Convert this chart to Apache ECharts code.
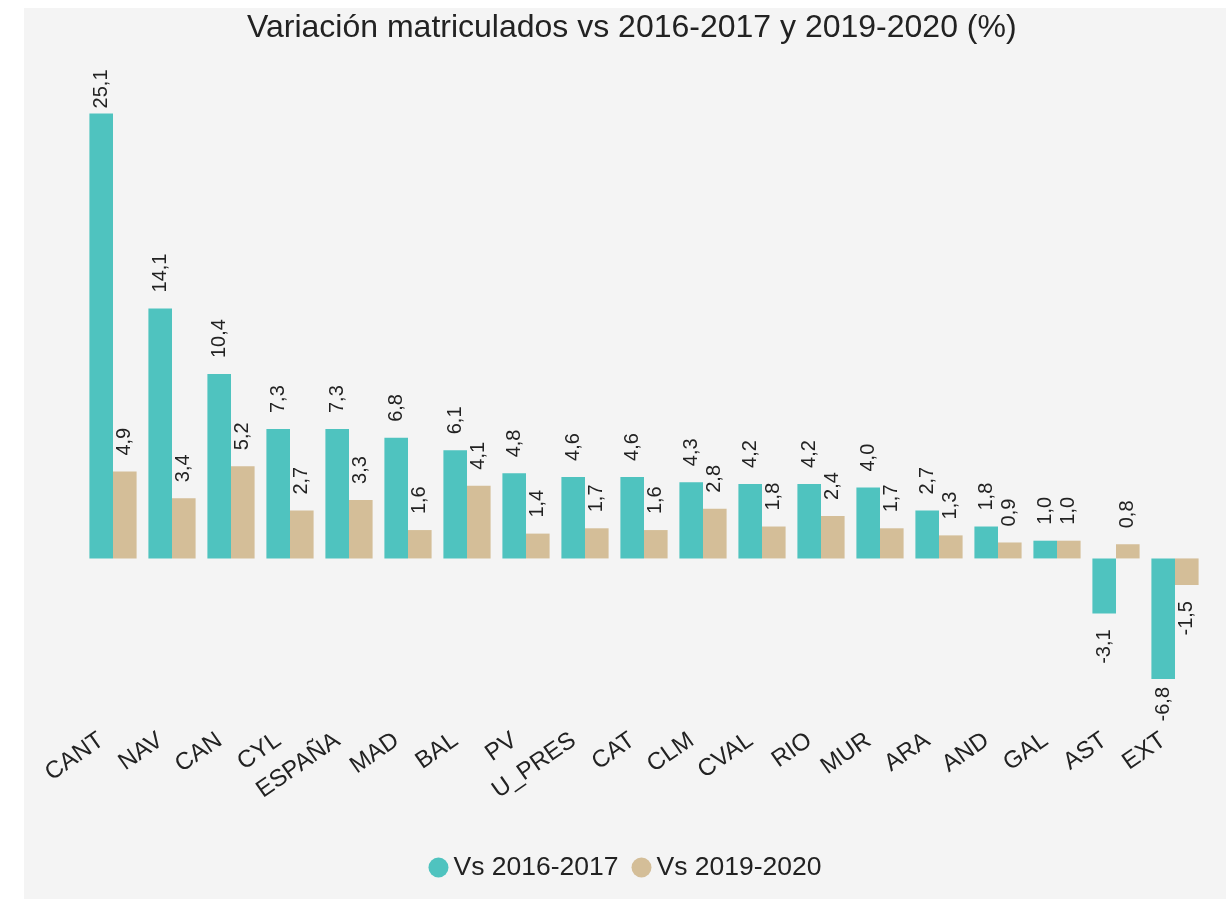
<!DOCTYPE html>
<html>
<head>
<meta charset="utf-8">
<script src="https://cdn.jsdelivr.net/npm/echarts@6/dist/echarts.min.js"></script>
<style>
  html, body { margin: 0; padding: 0; background: #ffffff; }
  #chart {
    position: absolute;
    left: 24px;
    top: 8px;
    width: 1202px;
    height: 891px;
  }
</style>
</head>
<body>
<div id="chart"></div>
<script>
// comunidades (orden del gráfico)
const categories = ['CANT', 'NAV', 'CAN', 'CYL', 'ESPAÑA', 'MAD', 'BAL', 'PV', 'U_PRES', 'CAT',
  'CLM', 'CVAL', 'RIO', 'MUR', 'ARA', 'AND', 'GAL', 'AST', 'EXT'];

// variación vs 2016-2017 (%)
const vs20162017 = [25.1, 14.1, 10.4, 7.3, 7.3, 6.8, 6.1, 4.8, 4.6, 4.6,
  4.3, 4.2, 4.2, 4.0, 2.7, 1.8, 1.0, -3.1, -6.8];

// variación vs 2019-2020 (%)
const vs20192020 = [4.9, 3.4, 5.2, 2.7, 3.3, 1.6, 4.1, 1.4, 1.7, 1.6,
  2.8, 1.8, 2.4, 1.7, 1.3, 0.9, 1.0, 0.8, -1.5];

const seriesNames = ['Vs 2016-2017', 'Vs 2019-2020'];

const fontFamily = "'Liberation Sans', Arial, sans-serif";
const textColor = '#222222';

// etiqueta con coma decimal
const fmt = (v) => v.toFixed(1).replace('.', ',');

// negativos: etiqueta debajo; las barras extremas la llevan más pegada (no cabe)
const toItems = (arr) => arr.map(v => {
  if (v < 0) {
    return {
      value: v,
      label: { position: 'bottom', align: 'right', distance: v < -5 ? 8 : 16 },
    };
  }
  if (v > 20) {
    return { value: v, label: { distance: 5 } };
  }
  return v;
});

const barLabel = {
  show: true,
  position: 'top',
  distance: 16,
  rotate: 90,
  align: 'left',
  verticalAlign: 'middle',
  color: textColor,
  fontSize: 20,
  fontFamily: fontFamily,
  formatter: (p) => fmt(p.value),
};

const myChart = echarts.init(document.getElementById('chart'));

const option = {
  backgroundColor: '#f4f4f4',
  animation: false,
  title: {
    text: 'Variación matriculados vs 2016-2017 y 2019-2020 (%)',
    left: 223,
    top: 4,
    padding: 0,
    textStyle: {
      color: textColor,
      fontSize: 32,
      fontWeight: 'normal',
      fontFamily: fontFamily,
    },
  },
  legend: {
    data: seriesNames,
    left: 'center',
    top: 841,
    icon: 'circle',
    itemWidth: 20,
    itemHeight: 20,
    itemGap: 13,
    textStyle: {
      color: textColor,
      fontSize: 26.5,
      fontFamily: fontFamily,
    },
  },
  grid: {
    left: 59.5,
    right: 21.5,
    top: 54,
    bottom: 181,
  },
  xAxis: {
    type: 'category',
    data: categories,
    axisLine: { show: false },
    axisTick: { show: false },
    axisLabel: {
      interval: 0,
      rotate: 35,
      margin: 12,
      padding: [0, 14, 0, 0],
      color: textColor,
      fontSize: 24,
      fontFamily: fontFamily,
    },
  },
  yAxis: {
    type: 'value',
    min: -9,
    max: 28,
    show: false,
    splitLine: { show: false },
  },
  series: [
    {
      name: seriesNames[0],
      type: 'bar',
      data: toItems(vs20162017),
      barGap: '0%',
      barCategoryGap: '20%',
      itemStyle: { color: '#4fc3bf' },
      label: barLabel,
    },
    {
      name: seriesNames[1],
      type: 'bar',
      data: toItems(vs20192020),
      barGap: '0%',
      barCategoryGap: '20%',
      itemStyle: { color: '#d4be98' },
      label: barLabel,
    },
  ],
};

myChart.setOption(option);

window.addEventListener('resize', () => myChart.resize());
</script>
</body>
</html>
